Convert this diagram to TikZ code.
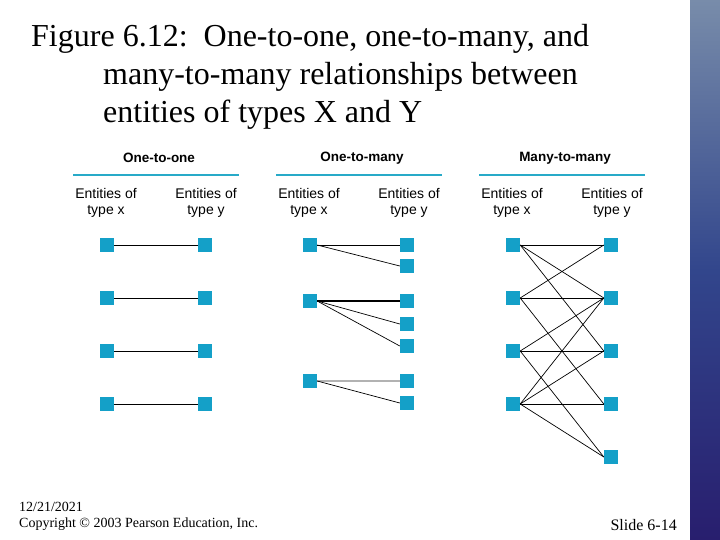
\documentclass[tikz,border=0pt]{standalone}
\usepackage{fontspec}
\setmainfont{Liberation Serif}
\newfontfamily\hv{Liberation Sans}
\begin{document}
\begin{tikzpicture}[x=1pt,y=-1pt,
 sq/.style={fill=sqc, minimum size=14pt, inner sep=0pt},
 hdr/.style={font=\hv\bfseries\fontsize{13.5}{15}\selectfont},
 lbl/.style={font=\hv\fontsize{14}{16}\selectfont, align=center},
 lnk/.style={black, line width=0.7pt}]
\definecolor{sqc}{RGB}{20,160,200}
\definecolor{rule}{RGB}{40,170,200}
\useasboundingbox (0,0) rectangle (720,540);
\fill[white] (0,0) rectangle (720,540);
\shade[top color={rgb,255:red,120;green,140;blue,170}, bottom color={rgb,255:red,40;green,30;blue,110}, middle color={rgb,255:red,50;green,70;blue,140}] (690,0) rectangle (720,540);
\node[anchor=north west, font=\fontsize{32}{38}\selectfont, align=left, inner sep=0pt] (title) at (31,24) {Figure 6.12:\ \ One-to-one, one-to-many, and\\\hspace*{72pt}many-to-many relationships between\\\hspace*{72pt}entities of types X and Y};
\node[anchor=south west, font=\fontsize{14}{16}\selectfont, align=left, inner sep=0pt] (date) at (19,531) {12/21/2021\\Copyright \textcopyright{} 2003 Pearson Education, Inc.};
\node[anchor=south east, font=\fontsize{16}{18}\selectfont, inner sep=0pt] (slide) at (677,531) {Slide 6-14};
% headers
\foreach \n/\cx/\t in {a/159/One-to-one, b/362/One-to-many, c/565/Many-to-many}{
 \node[hdr] (h\n) at (\cx,158) {\t};
 \draw[rule, line width=2pt] (\cx-86,175) -- (\cx+80,175);
 \node[lbl] (lx\n) at (\cx-53,203) {Entities of\\type x};
 \node[lbl] (ly\n) at (\cx+47,203) {Entities of\\type y};
}
% one-to-one
\foreach \i/\y in {1/245,2/298,3/351,4/404}{
 \node[sq] (ax\i) at (107,\y) {};
 \node[sq] (ay\i) at (205,\y) {};
 \draw[lnk] (ax\i) -- (ay\i);
}
% one-to-many
\node[sq] (bx1) at (310,245) {};
\node[sq] (bx2) at (310,301) {};
\node[sq] (bx3) at (310,381) {};
\foreach \i/\y in {1/245,2/266,3/301,4/324,5/346,6/381,7/403}{\node[sq] (by\i) at (407,\y) {};}
\draw[lnk] (bx1.east) -- (by1.west);
\draw[lnk] (bx1.east) -- (by2.west);
\draw[lnk, line width=1.2pt] (bx2.east) -- (by3.west);
\draw[lnk] (bx2.east) -- (by4.west);
\draw[lnk] (bx2.east) -- (by5.west);
\draw[lnk, gray!60, line width=1.2pt] (bx3.east) -- (by6.west);
\draw[lnk] (bx3.east) -- (by7.west);
% many-to-many
\foreach \i/\y in {1/245,2/298,3/351,4/404}{\node[sq] (cx\i) at (513,\y) {};}
\foreach \i/\y in {1/245,2/298,3/351,4/404,5/457}{\node[sq] (cy\i) at (611,\y) {};}
\foreach \a/\b in {1/1,1/2,1/3,2/1,2/2,2/4,3/2,3/3,3/5,4/2,4/3,4/4,4/5}{
 \draw[lnk] (cx\a.east) -- (cy\b.west);
}
\end{tikzpicture}
\end{document}
